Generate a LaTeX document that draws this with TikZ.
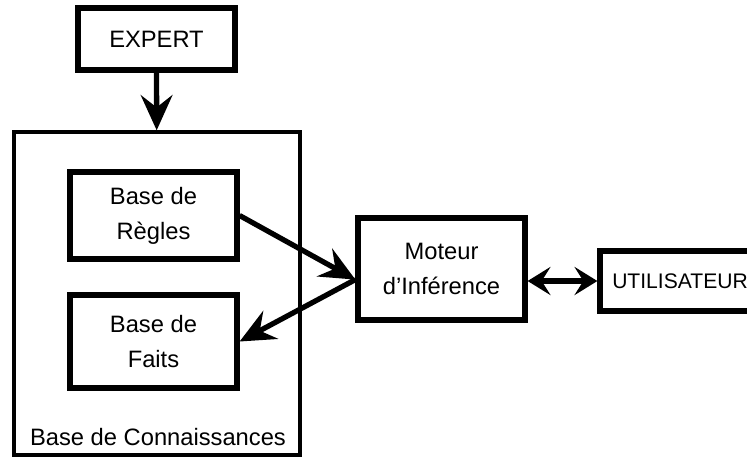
\documentclass[tikz,border=0pt]{standalone}
\usepackage{fontspec}
\setmainfont{Liberation Sans}
\usetikzlibrary{arrows.meta}

\begin{document}
\begin{tikzpicture}[x=0.02cm,y=-0.02cm,
    every node/.style={font=\fontsize{13.5}{20}\selectfont},
    box/.style={draw,line width=3pt,align=center,inner sep=0pt},
    bigarrow/.style={line width=3pt,-{Stealth[length=20pt,width=18pt,inset=7pt]}},
    twoway/.style={line width=3pt,{Stealth[length=13pt,width=16pt,inset=5pt]}-{Stealth[length=13pt,width=16pt,inset=5pt]}}]
\useasboundingbox (0,0) rectangle (747,461);

\node[box,minimum width=3.14cm,minimum height=1.24cm] (expert) at (156.5,39) {EXPERT};
\node[draw,line width=2pt,minimum width=5.72cm,minimum height=6.46cm] (kb) at (157,293.5) {};
\node (kblabel) at (158,437) {Base de Connaissances};

\node[box,minimum width=3.34cm,minimum height=1.74cm] (regles) at (153.5,215.5) {Base de\\R\`egles};
\node[box,minimum width=3.34cm,minimum height=1.86cm] (faits) at (153.5,341.5) {Base de\\Faits};
\node[box,minimum width=3.34cm,minimum height=2.04cm] (moteur) at (441.5,269) {Moteur\\d'Inf\'erence};
\node[box,minimum width=3.2cm,minimum height=1.2cm,font=\fontsize{12}{14}\selectfont] (user) at (680,281) {UTILISATEUR};

\draw[bigarrow] (expert) -- (kb);
\draw[bigarrow] (regles.east) -- (moteur.187);
\draw[bigarrow] (moteur.187) -- (faits.east);
\draw[twoway] (moteur.east |- user.west) -- (user.west);
\end{tikzpicture}
\end{document}
